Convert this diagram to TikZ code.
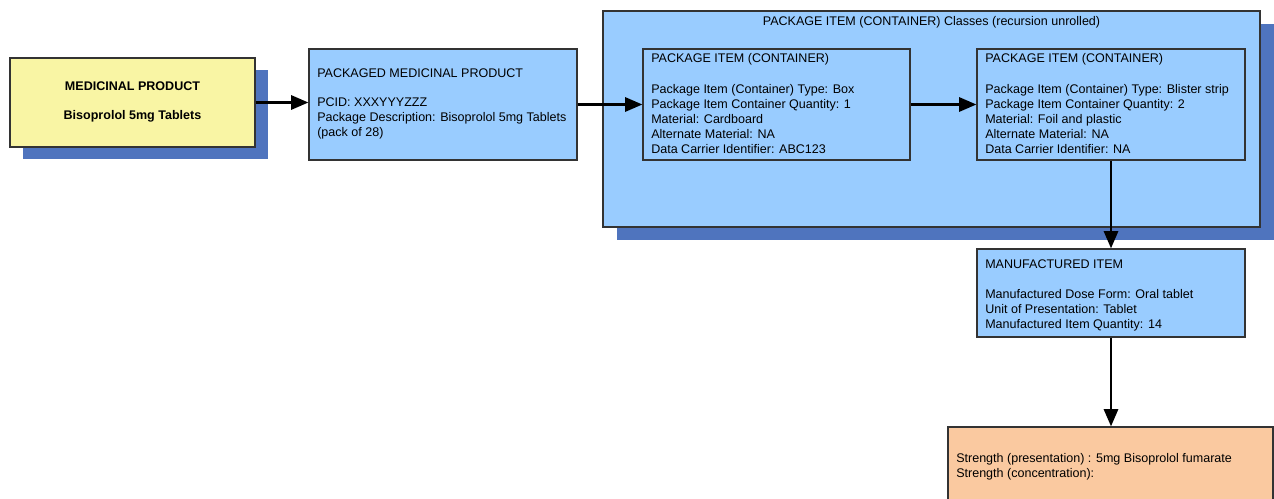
\documentclass[tikz,border=0pt]{standalone}
\usepackage{fontspec}
\setmainfont{Liberation Sans}
\usetikzlibrary{arrows.meta,shadows}
\definecolor{lblue}{HTML}{99CCFF}
\definecolor{shblue}{HTML}{4F74BE}
\definecolor{lyellow}{HTML}{F9F5A4}
\definecolor{peach}{HTML}{FAC9A0}
\definecolor{edge}{HTML}{333333}
\tikzset{
  box/.style={draw=edge, line width=0.8pt, rectangle, inner sep=0pt},
  txt/.style={inner sep=0pt, anchor=base west, align=left, font=\fontsize{9.4}{11.25}\selectfont},
  ctxt/.style={inner sep=0pt, anchor=base, align=center, font=\fontsize{9.4}{11.25}\selectfont},
  conn/.style={line width=2.2pt, -{Triangle[length=13pt,width=10.5pt]}},
}
\begin{document}
\begin{tikzpicture}[x=0.75pt,y=-0.75pt]
\useasboundingbox (0,0) rectangle (1274,499);
% boxes
\node[box, fill=lyellow, minimum width=183.75pt, minimum height=66.75pt,
  drop shadow={fill=shblue, opacity=1, shadow xshift=9.75pt, shadow yshift=-9pt}] (mp) at (132.5,102.5) {};
\node[box, fill=lblue, minimum width=201pt, minimum height=83.25pt] (pmp) at (443,104.5) {};
\node[box, fill=lblue, minimum width=492.75pt, minimum height=162pt,
  drop shadow={fill=shblue, opacity=1, shadow xshift=10.5pt, shadow yshift=-9.75pt}] (cont) at (931.5,119) {};
\node[box, fill=lblue, minimum width=200.25pt, minimum height=83.25pt] (pi1) at (776.5,104.5) {};
\node[box, fill=lblue, minimum width=201pt, minimum height=83.25pt] (pi2) at (1111,104.5) {};
\node[box, fill=lblue, minimum width=201pt, minimum height=66pt] (mi) at (1111,293) {};
\node[box, fill=peach, minimum width=243.75pt, minimum height=60pt] (st) at (1110.5,467) {};
% texts (anchor = baseline of last line)
\node[ctxt, font=\fontsize{9.4}{21.75}\selectfont\bfseries] (mpt) at (132.5,120) {MEDICINAL PRODUCT\\Bisoprolol 5mg Tablets};
\node[ctxt] (contt) at (931.5,26) {PACKAGE ITEM (CONTAINER) Classes (recursion unrolled)};
\node[txt] (pmpt1) at (317,78) {PACKAGED MEDICINAL PRODUCT};
\node[txt] (pmpt2) at (317,137) {PCID: XXXYYYZZZ\\Package Description: Bisoprolol 5mg Tablets\\(pack of 28)};
\node[txt] (pi1t1) at (651,63) {PACKAGE ITEM (CONTAINER)};
\node[txt] (pi1t2) at (651,154) {Package Item (Container) Type: Box\\Package Item Container Quantity: 1\\Material: Cardboard\\Alternate Material: NA\\Data Carrier Identifier: ABC123};
\node[txt] (pi2t1) at (985,63) {PACKAGE ITEM (CONTAINER)};
\node[txt] (pi2t2) at (985,154) {Package Item (Container) Type: Blister strip\\Package Item Container Quantity: 2\\Material: Foil and plastic\\Alternate Material: NA\\Data Carrier Identifier: NA};
\node[txt] (mit1) at (985,268) {MANUFACTURED ITEM};
\node[txt] (mit2) at (985,328) {Manufactured Dose Form: Oral tablet\\Unit of Presentation: Tablet\\Manufactured Item Quantity: 14};
\node[txt] (stt) at (956,477) {Strength (presentation) : 5mg Bisoprolol fumarate\\Strength (concentration):};
% connectors
\draw[conn] (mp.east) -- (mp.east -| pmp.west);
\draw[conn] (pmp.east) -- (pmp.east -| pi1.west);
\draw[conn] (pi1.east) -- (pi2.west);
\draw[conn] (pi2.south) -- (mi.north);
\draw[conn] (mi.south) -- (st.north -| mi.south);
\end{tikzpicture}
\end{document}
